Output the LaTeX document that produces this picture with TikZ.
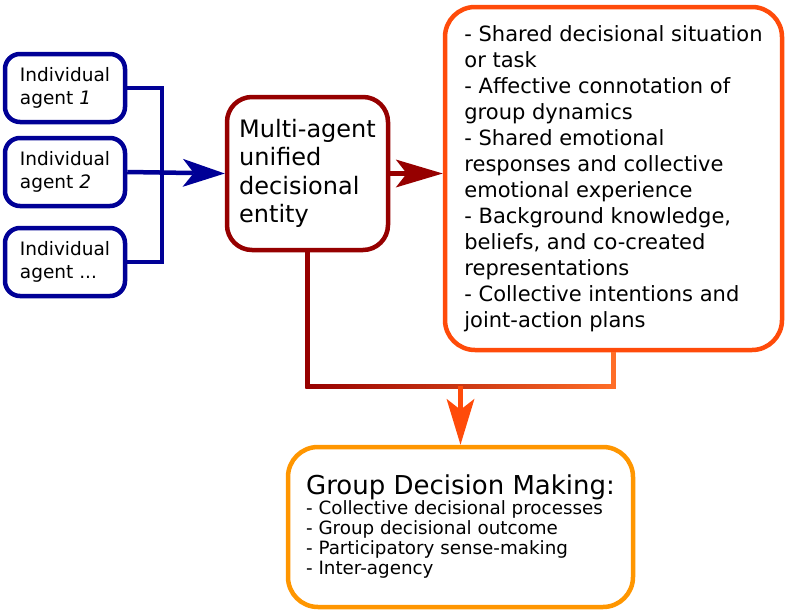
\documentclass[tikz,border=0pt]{standalone}
\usepackage{fontspec}
\setmainfont{DejaVu Sans}
\usepackage{xcolor}
\definecolor{agentblue}{RGB}{0,0,150}
\definecolor{entityred}{RGB}{150,0,0}
\definecolor{ctxorange}{RGB}{255,75,10}
\definecolor{busorange}{RGB}{255,110,40}
\definecolor{gdmorange}{RGB}{255,150,0}
\usetikzlibrary{arrows.meta, positioning, calc}

\begin{document}
\begin{tikzpicture}[x=1pt, y=-1pt,
  box/.style={rectangle, draw, fill=white, line width=4.5pt, align=left, inner sep=0pt},
  agent/.style={box, draw=agentblue, rounded corners=15pt, minimum width=120pt,
                minimum height=68pt, font=\fontsize{18.5}{23}\selectfont},
  entity/.style={box, draw=entityred, rounded corners=25pt, minimum width=161pt,
                 minimum height=153pt, font=\fontsize{24}{28.3}\selectfont},
  ctxbox/.style={box, draw=ctxorange, rounded corners=30pt, minimum width=337pt,
                 minimum height=343pt, font=\fontsize{21}{26}\selectfont},
  gdmbox/.style={box, draw=gdmorange, rounded corners=30pt, minimum width=345pt,
                 minimum height=160pt, font=\fontsize{18.3}{20}\selectfont},
  link/.style={line width=4pt},
  arr/.style={line width=4.5pt,
              -{Stealth[length=#1, width=28pt, inset=11pt, line width=0pt]}},
  arr/.default=42pt
]
\useasboundingbox (0,0) rectangle (787,613);

% agents
\node[agent] (a1) at (65,88)  {Individual\\agent \textit{1}};
\node[agent] (a2) at (65,172) {Individual\\agent \textit{2}};
\node[agent] (a3) at (65,262) {Individual\\agent ...};

% unified entity and its context
\node[entity] (mae) at (307.5,173.5) {Multi-agent\\unified\\decisional\\entity};
\node[ctxbox] (ctx) at (613.5,178.5)
  {- Shared decisional situation\\or task\\- Affective connotation of\\group dynamics\\
   - Shared emotional\\responses and collective\\emotional experience\\
   - Background knowledge,\\beliefs, and co-created\\representations\\
   - Collective intentions and\\joint-action plans};

% outcome
\node[gdmbox] (gdm) at (460.5,527)
  {{\fontsize{26}{30}\selectfont Group Decision Making:}\\
   - Collective decisional processes\\- Group decisional outcome\\
   - Participatory sense-making\\- Inter-agency};

% agents -> entity
\coordinate (bus) at (162,0);
\draw[link, agentblue] (a1.east) -| (a3.east -| bus) -- (a3.east);
\draw[arr, agentblue] (a2.east) -- (mae.west);

% entity -> context
\draw[arr=47pt, entityred] (mae.east) -- (mae.east -| ctx.west);

% both -> group decision making
\coordinate (bl) at ($(mae.south)+(0,134)$);
\coordinate (br) at (bl -| ctx.south);
\draw[line width=4.5pt, entityred] (mae.south) -- (bl);
\draw[line width=4.5pt, busorange] (ctx.south) -- (br);
\shade[left color=entityred, right color=busorange]
  ($(bl)+(-2.25,-2.25)$) rectangle ($(br)+(2.25,2.25)$);
\coordinate (bm) at ($(bl)!0.5!(br)$);
\draw[arr=46pt, ctxorange] (bm) -- (gdm.north);
\end{tikzpicture}
\end{document}
